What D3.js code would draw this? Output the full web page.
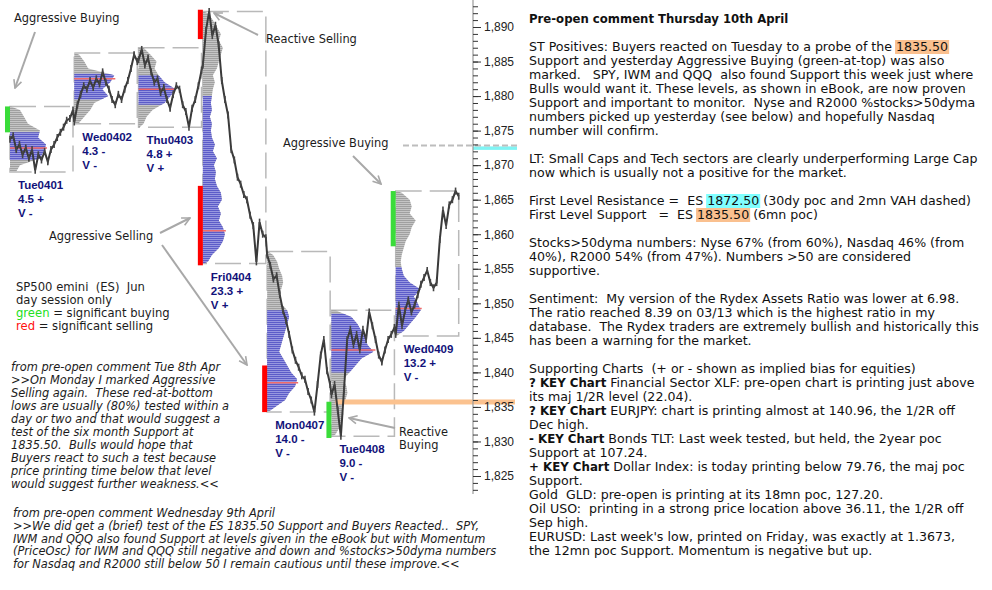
<!DOCTYPE html>
<html><head><meta charset="utf-8">
<script src="https://cdn.jsdelivr.net/npm/d3@7"></script>
<style>body{margin:0;background:#fff}svg{display:block}text{white-space:pre}</style>
</head><body>
<script>
// ---------------- DATA ----------------
const days     = ["Tue0401","Wed0402","Thu0403","Fri0404","Mon0407","Tue0408","Wed0409"];
const dayStat  = ["4.5 +","4.3 -","4.8 +","23.3 +","14.0 -","9.0 -","13.2 +"];
const dayBias  = ["V -","V -","V +","V +","V -","V -","V -"];
const dayHigh  = [1878.5,1886.25,1887,1892.25,1857.5,1849,1866.25];
const dayLow   = [1869,1876,1875.5,1855.75,1834.25,1830.75,1845.25];
const vaHigh   = [1874.75,1883.25,1883,1880,1849,1848.5,1855.25];
const vaLow    = [1870.75,1879.5,1878.75,1855.75,1834.5,1840,1845.75];
const pocPrice = [1872.5,1882.5,1881,1860.5,1838.5,1843.25,1849.25];
const pocVol   = [37,41,37,23,31,44,26];

// significant activity bars (day index, from price, to price, kind)
const sigDay  = [0,3,3,4,5,6];
const sigFrom = [1874.75,1888.25,1855.5,1834.25,1830.5,1858.25];
const sigTo   = [1878.5,1892.5,1867,1841,1835.75,1866.25];
const sigKind = ["buy","sell","sell","sell","buy","buy"];

// volume profiles, one value per 1-point level starting at profStart
const profStart = [1869,1876,1876,1856,1835,1831,1846];
const volTue0401 = [6,10,30,34,36,28,30,18,14,10];
const volWed0402 = [4,10,16,20,34,28,36,40,14,10,5];
const volThu0403 = [5,8,14,26,32,37,26,20,16,18,12,5];
const volFri0404 = [5,9,16,20,22,20,16,18,15,19,18,14,12,13,11,14,10,12,9,8,9,7,9,8,9,10,12,10,14,16,18,20,16,18,14,10,5];
const volMon0407 = [8,18,22,28,30,24,20,16,12,14,16,18,20,22,20,14,12,14,16,15,12,10,6];
const volTue0408 = [4,8,10,12,10,14,16,15,12,18,24,30,42,36,34,30,26,20,4];
const volWed0409 = [8,14,20,25,22,18,25,14,8,6,5,6,8,10,14,16,20,14,16,14,6];
const profiles = [volTue0401,volWed0402,volThu0403,volFri0404,volMon0407,volTue0408,volWed0409];

// ES price path through each day session
const pxTue0401 = [1873.75,1874.25,1872.25,1873.0,1871.5,1872.5,1871.0,1872.25,1869.25,1871.5,1870.75,1872.0,1870.5,1872.25,1873.0,1874.0,1874.75,1875.5,1876.5,1876.75,1878.0];
const pxWed0402 = [1876.25,1878.75,1880.25,1881.5,1881.0,1882.25,1881.25,1882.5,1881.75,1883.5,1882.0,1881.0,1879.5,1878.75,1880.25,1879.5,1881.0,1882.25,1884.0,1886.0,1885.0];
const pxThu0403 = [1885.25,1886.75,1884.5,1885.5,1883.5,1882.0,1882.5,1880.5,1881.25,1879.5,1878.25,1880.25,1881.5,1881.0,1878.75,1877.75,1875.5,1878.25,1879.5,1881.5,1883.75];
const pxFri0404 = [1884.5,1889.5,1892.25,1888.75,1890.25,1887.5,1882.25,1879.5,1877.25,1872.25,1870.75,1868.25,1867.25,1865.75,1865.0,1862.75,1861.25,1856.0,1861.75,1860.0,1859.5];
const pxMon0407 = [1857.0,1855.5,1853.5,1854.0,1851.25,1849.0,1847.5,1845.5,1843.25,1841.75,1840.75,1839.5,1839.0,1837.25,1836.0,1834.25,1838.25,1842.5,1844.75,1840.25,1838.25];
const pxTue0408 = [1836.75,1838.25,1834.5,1830.75,1837.5,1844.75,1846.25,1844.0,1845.5,1843.25,1846.25,1844.75,1848.75,1846.75,1844.75,1842.5,1841.5,1843.25,1844.75,1845.5,1846.5];
const pxWed0409 = [1845.5,1849.75,1846.75,1849.0,1850.5,1848.75,1849.75,1851.25,1852.75,1853.75,1854.75,1853.0,1852.25,1853.0,1859.25,1863.5,1861.25,1864.25,1865.0,1866.25,1865.5];
const priceSeries = [pxTue0401,pxWed0402,pxThu0403,pxFri0404,pxMon0407,pxTue0408,pxWed0409];

const resistance = 1872.5;
const support = 1835.5;
const axisTicks = [1825,1830,1835,1840,1845,1850,1855,1860,1865,1870,1875,1880,1885,1890];

const annotations = ["Aggressive Buying","Reactive Selling","Aggressive Buying","Aggressive Selling","Reactive","Buying"];
const legendLines = [[["SP500 emini  (ES)  Jun",null]],[["day session only",null]],
  [["green","#22e022"],[" = significant buying",null]],[["red","#ff1010"],[" = significant selling",null]]];
const quoteTue = ["from pre-open comment Tue 8th Apr",">>On Monday I marked Aggressive","Selling again.  These red-at-bottom",
  "lows are usually (80%) tested within a","day or two and that would suggest a","test of the six month Support at",
  "1835.50.  Bulls would hope that","Buyers react to such a test because","price printing time below that level",
  "would suggest further weakness.<<"];
const quoteWed = ["from pre-open comment Wednesday 9th April",
  ">>We did get a (brief) test of the ES 1835.50 Support and Buyers Reacted..  SPY,",
  "IWM and QQQ also found Support at levels given in the eBook but with Momentum",
  "(PriceOsc) for IWM and QQQ still negative and down and %stocks>50dyma numbers",
  "for Nasdaq and R2000 still below 50 I remain cautious until these improve.<<"];
const noteLines = [
[["Pre-open comment Thursday 10th April","t"]],
[],
[["ST Positives: Buyers reacted on Tuesday to a probe of the "],["1835.50","o"]],
[["Support and yesterday Aggressive Buying (green-at-top) was also"]],
[["marked.   SPY, IWM and QQQ  also found Support this week just where"]],
[["Bulls would want it. These levels, as shown in eBook, are now proven"]],
[["Support and important to monitor.  Nyse and R2000 %stocks>50dyma"]],
[["numbers picked up yesterday (see below) and hopefully Nasdaq"]],
[["number will confirm."]],
[],
[["LT: Small Caps and Tech sectors are clearly underperforming Large Cap"]],
[["now which is usually not a positive for the market."]],
[],
[["First Level Resistance =  ES "],["1872.50","c"],[" (30dy poc and 2mn VAH dashed)"]],
[["First Level Support   =  ES "],["1835.50","o"],[" (6mn poc)"]],
[],
[["Stocks>50dyma numbers: Nyse 67% (from 60%), Nasdaq 46% (from"]],
[["40%), R2000 54% (from 47%). Numbers >50 are considered"]],
[["supportive."]],
[],
[["Sentiment:  My version of the Rydex Assets Ratio was lower at 6.98."]],
[["The ratio reached 8.39 on 03/13 which is the highest ratio in my"]],
[["database.  The Rydex traders are extremely bullish and historically this"]],
[["has been a warning for the market."]],
[],
[["Supporting Charts  (+ or - shown as implied bias for equities)"]],
[["? KEY Chart","b"],[" Financial Sector XLF: pre-open chart is printing just above"]],
[["its maj 1/2R level (22.04)."]],
[["? KEY Chart","b"],[" EURJPY: chart is printing almost at 140.96, the 1/2R off"]],
[["Dec high."]],
[["- KEY Chart","b"],[" Bonds TLT: Last week tested, but held, the 2year poc"]],
[["Support at 107.24."]],
[["+ KEY Chart","b"],[" Dollar Index: is today printing below 79.76, the maj poc"]],
[["Support."]],
[["Gold  GLD: pre-open is printing at its 18mn poc, 127.20."]],
[["Oil USO:  printing in a strong price location above 36.11, the 1/2R off"]],
[["Sep high."]],
[["EURUSD: Last week's low, printed on Friday, was exactly at 1.3673,"]],
[["the 12mn poc Support. Momentum is negative but up."]]
];

// ---------------- LAYOUT ----------------
const W = 992, H = 590;
const annPos = [[14,22],[266,43],[283,147],[49,240],[399,436],[399,449]];
const arrows = [[35,32,15,88],[258,35,214,13],[353,156,381,184],[160,233,190,218],[162,245,247,365],[395,428,349,418]];

const svg = d3.select("body").append("svg").attr("width",W).attr("height",H)
  .style("font-family","'DejaVu Sans', Verdana, sans-serif");
const defs = svg.append("defs");
function linePattern(id, bg, fg){
  const p = defs.append("pattern").attr("id",id).attr("width",4).attr("height",2).attr("patternUnits","userSpaceOnUse");
  p.append("rect").attr("width",4).attr("height",2).attr("fill",bg);
  p.append("rect").attr("width",4).attr("height",1.2).attr("fill",fg);
}
linePattern("pBlue","#a6a6e6","#5c5cc8");
linePattern("pGray","#cfcfcf","#a0a0a0");
defs.append("marker").attr("id","ah").attr("viewBox","0 0 10 10").attr("refX",9).attr("refY",5)
  .attr("markerWidth",10).attr("markerHeight",10).attr("markerUnits","userSpaceOnUse").attr("orient","auto")
  .append("path").attr("d","M1,1 L9,5 L1,9").attr("fill","none").attr("stroke","#a8a8a8").attr("stroke-width",1.6);

const y = d3.scaleLinear().domain([1825,1890]).range([476,27]);
const x = d3.scaleLinear().domain([0,7]).range([10,460]);
const vw = d3.scaleLinear().domain([0,50]).range([0,50]);
const dayW = 0.98;

const chart = svg.append("g");

// day range boxes
chart.selectAll("rect.box").data(days).join("rect").attr("class","box")
  .attr("x",(d,i)=>x(i)).attr("width",(d,i)=>x(i+dayW)-x(i))
  .attr("y",(d,i)=>y(dayHigh[i])).attr("height",(d,i)=>y(dayLow[i])-y(dayHigh[i]))
  .attr("fill","none").attr("stroke","#b9b9b9").attr("stroke-width",1.5).attr("stroke-dasharray","26,8");

// profiles
profiles.forEach((vols,d)=>{
  const pts = [{p:dayLow[d],v:1}].concat(vols.map((v,i)=>({p:profStart[d]+i,v}))).concat([{p:dayHigh[d],v:1}]);
  const area = d3.area().y(e=>y(e.p)).x0(x(d)).x1(e=>x(d)+vw(e.v)).curve(d3.curveLinear);
  defs.append("clipPath").attr("id","va"+d).append("rect")
    .attr("x",x(d)-2).attr("width",80).attr("y",y(vaHigh[d])).attr("height",y(vaLow[d])-y(vaHigh[d]));
  chart.append("path").attr("d",area(pts)).attr("fill","url(#pGray)");
  chart.append("path").attr("d",area(pts)).attr("fill","url(#pBlue)").attr("clip-path",`url(#va${d})`);
});

// POC lines
chart.selectAll("line.poc").data(days).join("line").attr("class","poc")
  .attr("x1",(d,i)=>x(i)).attr("x2",(d,i)=>x(i)+vw(pocVol[i]))
  .attr("y1",(d,i)=>y(pocPrice[i])).attr("y2",(d,i)=>y(pocPrice[i]))
  .attr("stroke","#f06a6a").attr("stroke-width",1.5);

// significant buying / selling bars
chart.selectAll("rect.sig").data(sigDay).join("rect").attr("class","sig")
  .attr("x",d=>x(d)-5).attr("width",5)
  .attr("y",(d,i)=>y(sigTo[i])).attr("height",(d,i)=>y(sigFrom[i])-y(sigTo[i]))
  .attr("fill",(d,i)=>sigKind[i]==="buy"?"#3adc3a":"#ff0000");

// support band
chart.append("rect").attr("x",x(5)+4).attr("width",515-(x(5)+4))
  .attr("y",y(support)-4).attr("height",5).attr("fill","#fbc28f");
// resistance
chart.append("rect").attr("x",473).attr("width",44).attr("y",y(resistance)-1.5).attr("height",3.5).attr("fill","#80f4f4");
chart.append("line").attr("x1",403).attr("x2",517).attr("y1",y(resistance)-2.5).attr("y2",y(resistance)-2.5)
  .attr("stroke","#bdbdbd").attr("stroke-width",2).attr("stroke-dasharray","6,3");

// price path
const pricePts = [];
priceSeries.forEach((arr,d)=>arr.forEach((p,i)=>pricePts.push([x(d + i/(arr.length-1)*dayW), y(p)])));
chart.append("path").attr("d",d3.line()(pricePts)).attr("fill","none")
  .attr("stroke","#3a3a3a").attr("stroke-width",2).attr("stroke-linejoin","miter");
chart.selectAll("line.bar").data(pricePts).join("line").attr("class","bar")
  .attr("x1",d=>d[0]).attr("x2",d=>d[0]).attr("y1",d=>d[1]-3.5).attr("y2",d=>d[1]+3.5)
  .attr("stroke","#444").attr("stroke-width",1.6);

// axis
const ax = svg.append("g").attr("transform","translate(473,0)");
ax.append("line").attr("y1",0).attr("y2",494).attr("stroke","#9a9a9a").attr("stroke-width",1.2);
const minor = d3.range(1823,1894);
ax.append("g").call(d3.axisRight(y).tickValues(minor).tickSize(5).tickFormat(""))
  .call(g=>g.select(".domain").remove()).selectAll("line").attr("stroke","#333");
ax.append("g").call(d3.axisRight(y).tickValues(axisTicks).tickSize(8).tickFormat(d3.format(",")))
  .call(g=>g.select(".domain").remove())
  .call(g=>g.selectAll("line").attr("stroke","#333"))
  .call(g=>g.selectAll("text").attr("font-family","'Liberation Sans', Arial, sans-serif").attr("font-size",12).attr("fill","#222"));

// day labels
const lab = svg.append("g").attr("font-family","'Liberation Sans', Arial, sans-serif").attr("font-weight","bold")
  .attr("font-size",11.5).attr("fill","#12127a");
days.forEach((d,i)=>{
  const t = lab.append("text").attr("x",x(i)+8).attr("y",y(dayLow[i])+17);
  [d, dayStat[i], dayBias[i]].forEach((s,k)=>t.append("tspan").attr("x",x(i)+8).attr("dy",k?14:0).text(s));
});

// annotations
svg.append("g").attr("font-size",11.4).attr("fill","#1c1c1c").selectAll("text").data(annotations).join("text")
  .attr("x",(d,i)=>annPos[i][0]).attr("y",(d,i)=>annPos[i][1]).text(d=>d);
svg.append("g").selectAll("line").data(arrows).join("line")
  .attr("x1",d=>d[0]).attr("y1",d=>d[1]).attr("x2",d=>d[2]).attr("y2",d=>d[3])
  .attr("stroke","#a8a8a8").attr("stroke-width",2).attr("marker-end","url(#ah)");

// legend
const lg = svg.append("g").attr("font-size",11.6).attr("fill","#1c1c1c");
legendLines.forEach((segs,i)=>{
  const t = lg.append("text").attr("x",16).attr("y",291+13*i).attr("xml:space","preserve");
  segs.forEach(s=>t.append("tspan").attr("fill",s[1]||"#1c1c1c").text(s[0]));
});

// italic quotes
const q1 = svg.append("g").attr("font-size",11.4).attr("font-style","italic").attr("fill","#1c1c1c");
q1.selectAll("text").data(quoteTue).join("text").attr("xml:space","preserve").attr("x",11).attr("y",(d,i)=>371+13*i).text(d=>d);
const q2 = svg.append("g").attr("font-size",11.4).attr("font-style","italic").attr("fill","#1c1c1c");
q2.selectAll("text").data(quoteWed).join("text").attr("xml:space","preserve").attr("x",13).attr("y",(d,i)=>517+12.8*i).text(d=>d);

// right comment column
const notes = svg.append("g").attr("font-size",12.6).attr("fill","#111");
const hlColor = {o:"#fac08f", c:"#80ffff"};
noteLines.forEach((segs,i)=>{
  const by = 23 + 14*i;
  const t = notes.append("text").attr("x",529).attr("y",by).attr("xml:space","preserve");
  segs.forEach(s=>{
    const ts = t.append("tspan").text(s[0]);
    if (s[1]==="t") ts.attr("font-weight","bold").attr("font-size",11.7);
    if (s[1]==="b") ts.attr("font-weight","bold").attr("font-size",11.8);
    if (s[1]==="o" || s[1]==="c") ts.attr("data-hl",s[1]).attr("data-by",by);
  });
});
notes.selectAll("tspan[data-hl]").each(function(){
  const bb = this.getBBox();
  const by = +this.getAttribute("data-by");
  notes.insert("rect",":first-child").attr("x",bb.x-1).attr("y",by-11).attr("width",bb.width+2).attr("height",14)
    .attr("fill",hlColor[this.getAttribute("data-hl")]);
});
</script>
</body></html>
